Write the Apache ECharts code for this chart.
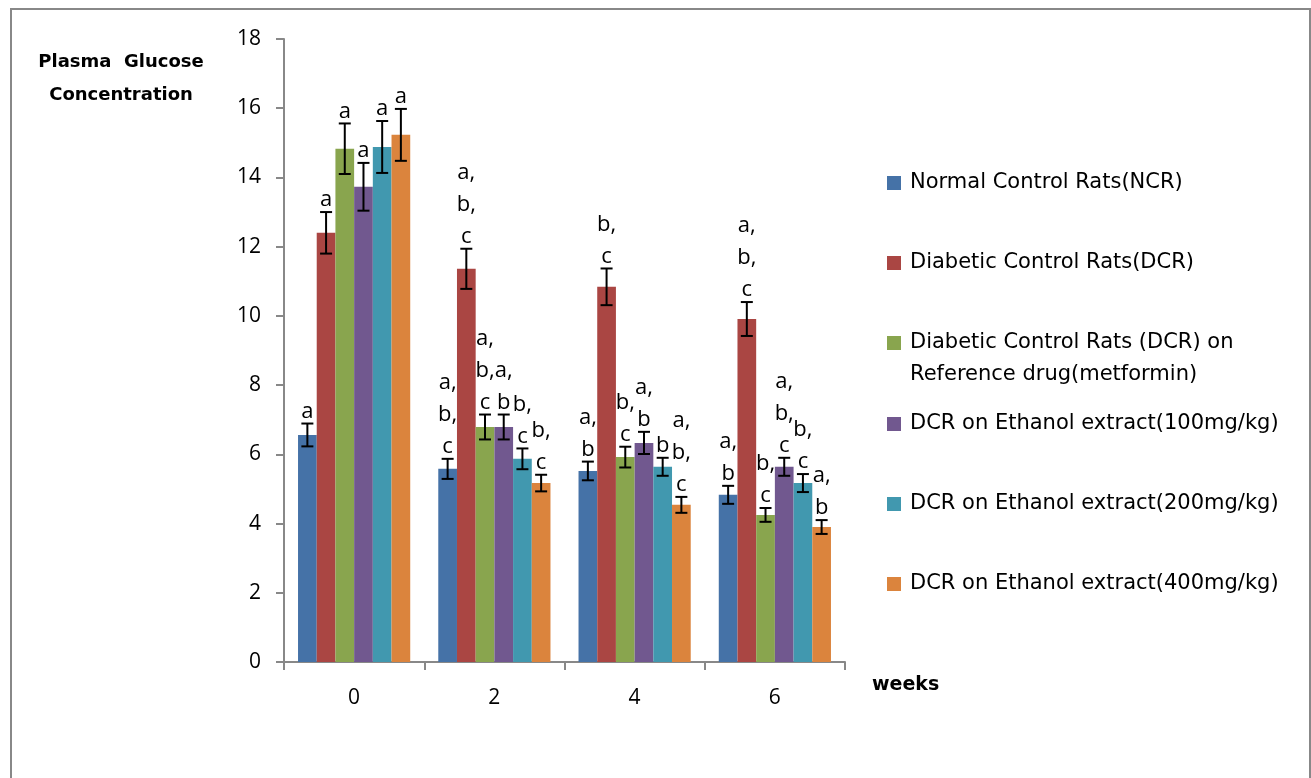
<!DOCTYPE html>
<html>
<head>
<meta charset="utf-8">
<script src="https://cdn.jsdelivr.net/npm/echarts@6/dist/echarts.min.js"></script>
<style>
html,body{margin:0;padding:0;background:#fff}
#c{width:1311px;height:778px}
.pre{position:absolute;left:-9999px;top:0;visibility:hidden}
</style>
</head>
<body>
<div class="pre" style="font-family:'Open Sans';font-size:22px">abc 0123456789</div>
<div class="pre" style="font-family:'DejaVu Sans';font-size:21px">DCR on Ethanol</div>
<div class="pre" style="font-family:'DejaVu Sans';font-weight:bold;font-size:18px">Plasma weeks</div>
<div id="c"></div>
<script>
const categories = ['0', '2', '4', '6'];
const seriesNames = [
  'Normal Control Rats(NCR)',
  'Diabetic Control Rats(DCR)',
  'Diabetic Control Rats (DCR) on\nReference drug(metformin)',
  'DCR on Ethanol extract(100mg/kg)',
  'DCR on Ethanol extract(200mg/kg)',
  'DCR on Ethanol extract(400mg/kg)'
];
const colors = ['#4572A7', '#AA4643', '#89A54E', '#71588F', '#4198AF', '#DB843D'];

const ncr   = [6.56, 5.58, 5.52, 4.83];
const dcr   = [12.40, 11.36, 10.84, 9.91];
const met   = [14.83, 6.79, 5.92, 4.25];
const e100  = [13.73, 6.79, 6.33, 5.64];
const e200  = [14.88, 5.87, 5.64, 5.17];
const e400  = [15.23, 5.17, 4.54, 3.90];

const ncrErr  = [0.33, 0.29, 0.27, 0.26];
const dcrErr  = [0.60, 0.58, 0.53, 0.49];
const metErr  = [0.73, 0.36, 0.30, 0.20];
const e100Err = [0.69, 0.36, 0.32, 0.26];
const e200Err = [0.75, 0.30, 0.26, 0.26];
const e400Err = [0.75, 0.24, 0.23, 0.20];

const ncrLab  = ['a', 'a,\nb,\nc', 'a,\nb', 'a,\nb'];
const dcrLab  = ['a', 'a,\nb,\nc', 'b,\nc', 'a,\nb,\nc'];
const metLab  = ['a', 'a,\nb,\nc', 'b,\nc', 'b,\nc'];
const e100Lab = ['a', 'a,\nb', 'a,\nb', 'a,\nb,\nc'];
const e200Lab = ['a', 'b,\nc', 'b', 'b,\nc'];
const e400Lab = ['a', 'b,\nc', 'a,\nb,\nc', 'a,\nb'];

const yTicks = [0, 2, 4, 6, 8, 10, 12, 14, 16, 18];

const means = [ncr, dcr, met, e100, e200, e400];
const errs = [ncrErr, dcrErr, metErr, e100Err, e200Err, e400Err];
const labs = [ncrLab, dcrLab, metLab, e100Lab, e200Lab, e400Lab];

const FONT = 'Open Sans';
const WIDE = 'DejaVu Sans';
const nS = means.length;
const catGapFrac = 0.2;

const series = [];
means.forEach((m, si) => {
  series.push({
    type: 'bar', name: seriesNames[si], data: m,
    itemStyle: { color: colors[si] },
    barGap: '0%', barCategoryGap: '20%',
    emphasis: { disabled: true }
  });
});
means.forEach((m, si) => {
  series.push({
    type: 'custom', name: 'err' + si, z: 5,
    silent: true,
    encode: { x: 0, y: [1, 2] },
    data: m.map((v, ci) => [ci, v - errs[si][ci], v + errs[si][ci]]),
    renderItem: function (params, api) {
      const ci = api.value(0), lo = api.value(1), hi = api.value(2);
      const band = api.size([1, 0])[0];
      const bw = band * (1 - catGapFrac) / nS;
      const cx = api.coord([ci, 0])[0] - band * (1 - catGapFrac) / 2 + bw * (si + 0.5);
      const yl = api.coord([ci, lo])[1], yh = api.coord([ci, hi])[1];
      const hw = 6;
      const st = { stroke: '#000', lineWidth: 2 };
      return {
        type: 'group',
        children: [
          { type: 'line', shape: { x1: cx, y1: yl, x2: cx, y2: yh }, style: st },
          { type: 'line', shape: { x1: cx - hw, y1: yh, x2: cx + hw, y2: yh }, style: st },
          { type: 'line', shape: { x1: cx - hw, y1: yl, x2: cx + hw, y2: yl }, style: st },
          { type: 'text', x: cx, y: yh + 4, style: {
              text: labs[si][params.dataIndex], fill: '#000', fontSize: 22, fontFamily: FONT,
              align: 'center', verticalAlign: 'bottom', lineHeight: 32 } }
        ]
      };
    }
  });
});

const legendCenters = [182, 262, 341, 423, 503, 583];
const legends = seriesNames.map((nm, i) => {
  const two = nm.indexOf('\n') >= 0;
  const lg = {
    orient: 'vertical', left: 887, top: two ? legendCenters[i] - 46 : legendCenters[i] - 15,
    padding: 0, itemWidth: 14, itemHeight: 14, icon: 'rect',
    data: [nm],
    textStyle: { fontSize: 21, fontFamily: WIDE, color: '#000', lineHeight: 32,
      padding: [0, 0, 0, 4] }
  };
  if (two) lg.formatter = function (name) { return ' \n' + name; };
  return lg;
});

const option = {
  animation: false,
  backgroundColor: '#fff',
  grid: { left: 284, right: 466, top: 39, bottom: 116, containLabel: false },
  legend: legends,
  xAxis: {
    type: 'category', data: categories,
    name: 'weeks', nameLocation: 'end', nameGap: 27,
    nameTextStyle: { fontSize: 19, fontWeight: 'bold', fontFamily: WIDE, color: '#000',
      verticalAlign: 'top', padding: [14, 0, 0, 0] },
    axisLine: { lineStyle: { color: '#888', width: 2 } },
    axisTick: { show: true, length: 8, lineStyle: { color: '#888', width: 2 } },
    axisLabel: { fontSize: 21, fontFamily: FONT, color: '#000', margin: 26 },
    splitLine: { show: false }
  },
  yAxis: {
    type: 'value', min: yTicks[0], max: yTicks[yTicks.length - 1], interval: 2,
    axisLine: { show: true, lineStyle: { color: '#888', width: 2 } },
    axisTick: { show: true, length: 8, lineStyle: { color: '#888', width: 2 } },
    axisLabel: { fontSize: 21, fontFamily: FONT, color: '#000', margin: 23 },
    splitLine: { show: false }
  },
  series: series,
  graphic: [
    { type: 'rect', shape: { x: 11, y: 9, width: 1299, height: 800 },
      style: { fill: 'none', stroke: '#888', lineWidth: 2 }, silent: true, z: -1 },
    { type: 'text', x: 121, y: 46, style: { text: 'Plasma  Glucose\nConcentration',
      fontSize: 18, fontWeight: 'bold', fontFamily: WIDE, fill: '#000', align: 'center',
      lineHeight: 33 } }
  ]
};

const chart = echarts.init(document.getElementById('c'), null, { renderer: 'canvas' });
chart.setOption(option);
if (document.fonts && document.fonts.load) {
  Promise.all([
    document.fonts.load('22px "Open Sans"'),
    document.fonts.load('21px "DejaVu Sans"'),
    document.fonts.load('bold 18px "DejaVu Sans"')
  ]).then(function () {
    chart.clear();
    chart.setOption(option, true);
  }).catch(function () {});
}
</script>
</body>
</html>
